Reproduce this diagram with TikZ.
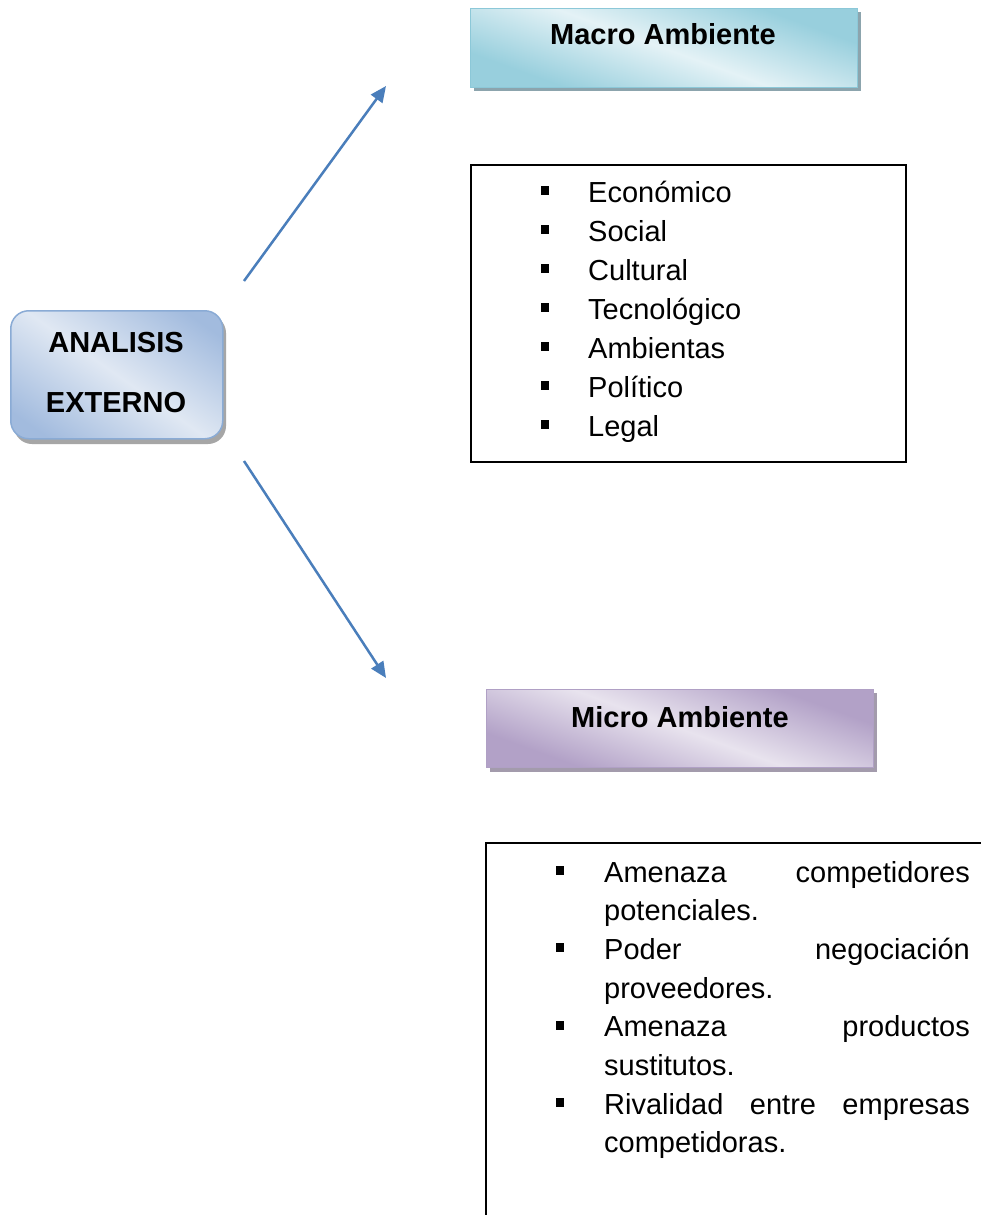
\documentclass[tikz,border=0pt]{standalone}
\usepackage{fontspec}
\setmainfont{Liberation Sans}
\usetikzlibrary{arrows.meta}

\definecolor{macroDark}{HTML}{98CFDD}
\definecolor{macroLight}{HTML}{E4F2F6}
\definecolor{macroLine}{HTML}{8CC8D8}
\definecolor{macroShadow}{HTML}{8CA4AD}
\definecolor{microDark}{HTML}{B2A1C7}
\definecolor{microLight}{HTML}{E8E3EE}
\definecolor{microLine}{HTML}{B0A0C5}
\definecolor{microShadow}{HTML}{A39BAC}
\definecolor{rootDark}{HTML}{A2BBDE}
\definecolor{rootLight}{HTML}{E0E8F3}
\definecolor{rootLine}{HTML}{8AABD5}
\definecolor{rootShadow}{HTML}{A6A6A6}
\definecolor{arrowBlue}{HTML}{4A7EBB}

\pgfdeclareverticalshading{macroshade}{100bp}{color(0bp)=(macroDark); color(28bp)=(macroDark); color(50bp)=(macroLight); color(72bp)=(macroDark); color(100bp)=(macroDark)}
\pgfdeclareverticalshading{microshade}{100bp}{color(0bp)=(microDark); color(28bp)=(microDark); color(50bp)=(microLight); color(72bp)=(microDark); color(100bp)=(microDark)}
\pgfdeclareverticalshading{rootshade}{100bp}{color(0bp)=(rootDark); color(22bp)=(rootDark); color(50bp)=(rootLight); color(78bp)=(rootDark); color(100bp)=(rootDark)}

\tikzset{
  txt/.style={inner sep=0pt, font=\fontsize{29}{39}\selectfont},
  btxt/.style={txt, font=\fontsize{29}{39}\selectfont\bfseries},
  listbox/.style={draw=black, line width=1.5pt},
  bulletmark/.style={fill=black},
  link/.style={draw=arrowBlue, line width=2.5pt, -{Triangle[length=16pt,width=14pt]}},
}

\begin{document}
\begin{tikzpicture}[x=1pt,y=-1pt]
\clip (0,0) rectangle (981,1215);
\fill[white] (0,0) rectangle (981,1215);

% Root box
\fill[rootShadow, rounded corners=18pt] (14,315) rectangle (226,444);
\node[draw=rootLine, line width=1.5pt, rounded corners=18pt, shading=rootshade, shading angle=-35,
      minimum width=212pt, minimum height=128pt, anchor=north west, inner sep=0pt] (root) at (10,310) {};
\node[btxt, anchor=base] (rootA) at (116,352) {ANALISIS};
\node[btxt, anchor=base] (rootB) at (116,412) {EXTERNO};

% Macro title box
\fill[macroShadow] (474,12) rectangle (861,91);
\node[draw=macroLine, line width=1pt, shading=macroshade, shading angle=-20,
      minimum width=387pt, minimum height=79pt, anchor=north west, inner sep=0pt] (macro) at (470,8) {};
\node[btxt, anchor=base] (macroT) at (663,45) {Macro Ambiente};

% Micro title box
\fill[microShadow] (490,693) rectangle (877,772);
\node[draw=microLine, line width=1pt, shading=microshade, shading angle=-20,
      minimum width=387pt, minimum height=78pt, anchor=north west, inner sep=0pt] (micro) at (486,689) {};
\node[btxt, anchor=base] (microT) at (680,727) {Micro Ambiente};

% Connectors
\coordinate (upStart) at (244,281);
\coordinate (upEnd) at (386,86);
\coordinate (downStart) at (244,461);
\coordinate (downEnd) at (386,678);
\draw[link] (upStart) -- (upEnd);
\draw[link] (downStart) -- (downEnd);

% Macro factors
\node[listbox, minimum width=435pt, minimum height=297pt, anchor=north west, inner sep=0pt] (macroList) at (470,164) {};
\foreach \t [count=\i from 0] in {Económico,Social,Cultural,Tecnológico,Ambientas,Político,Legal}{
  \pgfmathsetmacro{\yb}{202+39*\i}
  \fill[bulletmark] (541,\yb-16) rectangle (549,\yb-7);
  \node[txt, anchor=base west] (macroItem\i) at (588,\yb) {\t};
}

% Micro factors
\draw[listbox] (486,1230) -- (486,843) -- (1000,843);
\coordinate (microList) at (486,843);
\foreach \i in {0,2,4,6}{
  \pgfmathsetmacro{\yb}{882+38.7*\i}
  \fill[bulletmark] (556,\yb-16) rectangle (564,\yb-7);
}
\node[txt, anchor=base west] (m1a) at (604,882) {Amenaza};
\node[txt, anchor=base east] (m1b) at (970,882) {competidores};
\node[txt, anchor=base west] (m1c) at (604,920.7) {potenciales.};
\node[txt, anchor=base west] (m2a) at (604,959.4) {Poder};
\node[txt, anchor=base east] (m2b) at (970,959.4) {negociación};
\node[txt, anchor=base west] (m2c) at (604,998.1) {proveedores.};
\node[txt, anchor=base west] (m3a) at (604,1036.8) {Amenaza};
\node[txt, anchor=base east] (m3b) at (970,1036.8) {productos};
\node[txt, anchor=base west] (m3c) at (604,1075.5) {sustitutos.};
\node[txt, anchor=base west] (m4a) at (604,1114.2) {Rivalidad};
\node[txt, anchor=base] (m4b) at (783,1114.2) {entre};
\node[txt, anchor=base east] (m4c) at (970,1114.2) {empresas};
\node[txt, anchor=base west] (m4d) at (604,1152.9) {competidoras.};
\end{tikzpicture}
\end{document}
